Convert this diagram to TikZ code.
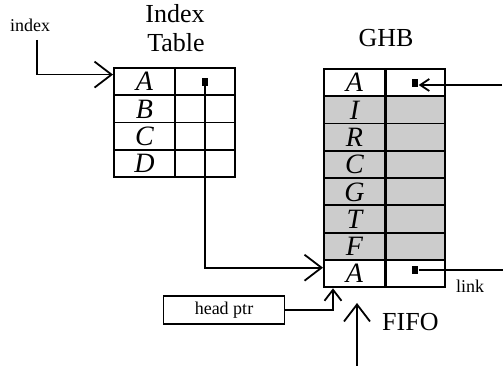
\documentclass[tikz,border=0pt]{standalone}
\usepackage{fontspec}
\setmainfont{Liberation Serif}
\usetikzlibrary{arrows.meta,positioning}
\definecolor{ghbgray}{RGB}{204,204,204}

\tikzset{
  cell/.style={draw, line width=1.9pt, minimum width=61pt, minimum height=27.3pt,
    inner sep=0pt, anchor=north west, text height=18.5pt, text depth=0pt,
    font=\fontsize{28}{28}\selectfont\itshape},
  ptr/.style={fill, minimum width=6pt, minimum height=8pt, inner sep=0pt},
  title/.style={font=\fontsize{26}{26}\selectfont, anchor=base, inner sep=0pt},
  smalltxt/.style={font=\fontsize{18}{18}\selectfont, inner sep=0pt},
  ptrbox/.style={draw, line width=1.8pt, minimum width=121pt, minimum height=28pt,
    inner sep=0pt, font=\fontsize{18}{18}\selectfont},
  wire/.style={line width=1.8pt},
  arr/.style={wire, -{Straight Barb[length=17pt,width=26pt]}},
  arrmid/.style={wire, -{Straight Barb[length=11pt,width=17pt]}},
  arrsmall/.style={wire, -{Straight Barb[length=9pt,width=12pt]}}
}

\begin{document}
\begin{tikzpicture}[x=1pt,y=-1pt]
  \useasboundingbox (0,0) rectangle (504,366);

  % index table
  \node[title] (it-t1) at (175,23) {Index};
  \node[title] (it-t2) at (176,52) {Table};
  \foreach \l [count=\i] in {A,B,C,D} {
    \node[cell] (ia\i) at (113,{67+(\i-1)*27.3}) {\l};
    \node[cell, minimum width=60pt] (ib\i) at (174,{67+(\i-1)*27.3}) {};
  }
  \node[ptr] (p-idx) at (ib1.center) {};

  % global history buffer, grey rows are older entries
  \node[title] (ghb-t) at (386,47) {GHB};
  \foreach \l/\c [count=\i] in {A/white,I/ghbgray,R/ghbgray,C/ghbgray,
                                G/ghbgray,T/ghbgray,F/ghbgray,A/white} {
    \node[cell, fill=\c] (ga\i) at (323,{68+(\i-1)*27.3}) {\l};
    \node[cell, fill=\c, minimum width=59pt] (gb\i) at (385,{68+(\i-1)*27.3}) {};
  }
  \node[ptr] (p-top) at (gb1.center) {};
  \node[ptr] (p-link) at ([yshift=4pt]gb8.center) {};

  % index lookup
  \node[smalltxt] (idx) at (30,25) {index};
  \coordinate (idx-in) at (37,40);
  \draw[arr] (idx-in) |- ([yshift=7pt]ia1.west);
  \draw[arr] (p-idx) |- ([yshift=6pt]ga8.west);

  % links between entries
  \coordinate (ghb-in) at (502,85);
  \draw[arrsmall] (ghb-in) -- (p-top.east |- ghb-in);
  \coordinate (link-out) at (503,0);
  \draw[wire] (p-link) -- (p-link -| link-out);
  \node[smalltxt] (link) at (470,286) {link};

  % head pointer and FIFO insert
  \node[ptrbox] (head) at (224,310) {head ptr};
  \draw[arrmid] (head.east) -| ([xshift=10pt]ga8.south west);
  \coordinate (fifo-in) at (357,366);
  \coordinate (fifo-tip) at (357,303);
  \draw[arr] (fifo-in) -- (fifo-tip);
  \node[title, anchor=base west] (fifo) at (382,331) {FIFO};
\end{tikzpicture}
\end{document}
